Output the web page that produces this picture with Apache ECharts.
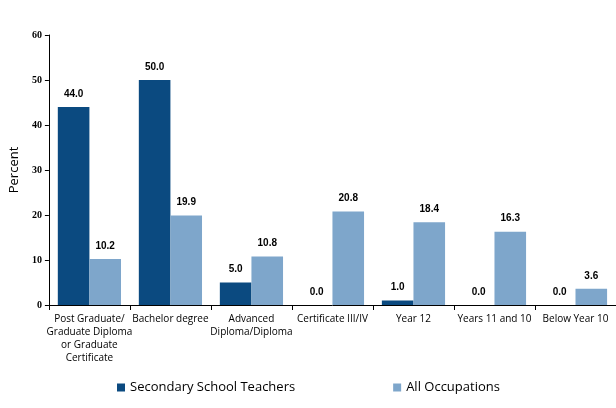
<!DOCTYPE html>
<html><head><meta charset="utf-8">
<script src="https://cdn.jsdelivr.net/npm/echarts@6/dist/echarts.min.js"></script>
<style>html,body{margin:0;padding:0;background:#fff}#c{width:616px;height:408px}</style>
</head><body><div id="c"></div>
<script>
const categories = ["Post Graduate/\nGraduate Diploma\nor Graduate\nCertificate","Bachelor degree","Advanced\nDiploma/Diploma","Certificate III/IV","Year 12","Years 11 and 10","Below Year 10"];
const teachers = [44.0, 50.0, 5.0, 0.0, 1.0, 0.0, 0.0];
const allOcc = [10.2, 19.9, 10.8, 20.8, 18.4, 16.3, 3.6];
const yTicks = [0, 10, 20, 30, 40, 50, 60];

const chart = echarts.init(document.getElementById('c'));
const font = 'Open Sans';
const lbl = {show:true, position:'top', distance:8, formatter: p => p.value.toFixed(1), fontSize:10, fontWeight:'bold', color:'#000', fontFamily:'Liberation Sans'};
chart.setOption({
  animation:false,
  grid:{left:45, right:-3, top:35, bottom:103},
  legend:{left:112, top:376, itemWidth:8, itemHeight:8, itemGap:98, icon:'rect',
    textStyle:{fontSize:13, color:'#000', fontFamily:font}},
  xAxis:{type:'category', data:categories,
    axisLine:{lineStyle:{color:'#000'}},
    axisTick:{show:true, length:5, lineStyle:{color:'#000'}},
    axisLabel:{interval:0, fontSize:10, color:'#000', fontFamily:font, lineHeight:13, margin:8}},
  yAxis:{type:'value', min:yTicks[0], max:yTicks[yTicks.length-1], interval:10,
    name:'Percent', nameLocation:'middle', nameGap:25, nameRotate:90,
    nameTextStyle:{fontSize:13, color:'#000', fontFamily:font},
    axisLine:{show:true, lineStyle:{color:'#000'}},
    axisTick:{show:true, length:4, lineStyle:{color:'#000'}},
    splitLine:{show:false},
    axisLabel:{fontSize:10, fontWeight:'bold', color:'#000', fontFamily:'Liberation Sans Narrow', margin:7}},
  series:[
    {name:'Secondary School Teachers', type:'bar', data:teachers, barGap:'0%', barCategoryGap:'22%',
      itemStyle:{color:'#0B4A80'}, label:lbl},
    {name:'All Occupations', type:'bar', data:allOcc,
      itemStyle:{color:'#7EA6CB'}, label:lbl}
  ]
});
</script></body></html>
